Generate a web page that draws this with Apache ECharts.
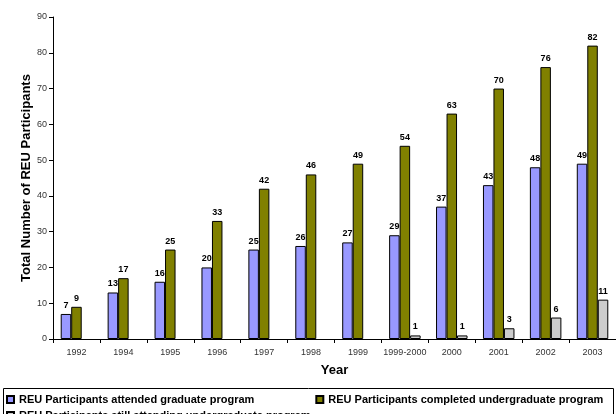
<!DOCTYPE html>
<html>
<head>
<meta charset="utf-8">
<script src="https://cdn.jsdelivr.net/npm/echarts@6/dist/echarts.min.js"></script>
<style>
  html, body { margin: 0; padding: 0; background: #fff; }
  #chart { width: 616px; height: 414px; }
</style>
</head>
<body>
<div id="chart"></div>
<script>
const years = ['1992', '1994', '1995', '1996', '1997', '1998', '1999', '1999-2000', '2000', '2001', '2002', '2003']
const graduate = [7, 13, 16, 20, 25, 26, 27, 29, 37, 43, 48, 49]
const completed = [9, 17, 25, 33, 42, 46, 49, 54, 63, 70, 76, 82]
const stillAttending = [null, null, null, null, null, null, null, 1, 1, 3, 6, 11]

const names = [
  'REU Participants attended graduate program',
  'REU Participants completed undergraduate program',
  'REU Participants still attending undergraduate program'
]
const colors = ['#9999ff', '#808000', '#cccccc']
const font = 'Liberation Sans'

const chart = echarts.init(document.getElementById('chart'))

function barSeries(name, data, color) {
  return {
    name,
    type: 'bar',
    data,
    barWidth: 10.5,
    barGap: '0%',
    itemStyle: {
      color,
      borderColor: '#000',
      borderWidth: 1
    },
    label: {
      show: true,
      position: 'top',
      distance: 4,
      color: '#000',
      fontWeight: 'bold',
      fontSize: 9,
      fontFamily: font
    }
  }
}

const option = {
  animation: false,
  grid: { left: 53, right: 0, top: 17, bottom: 75, containLabel: false },
  xAxis: {
    type: 'category',
    data: years,
    name: 'Year',
    nameLocation: 'middle',
    nameGap: 25,
    nameTextStyle: { fontWeight: 'bold', fontSize: 13, color: '#000', fontFamily: font },
    axisLine: { lineStyle: { color: '#000', width: 1 } },
    axisTick: { show: true, length: 4, lineStyle: { color: '#000' } },
    axisLabel: { interval: 0, color: '#333', fontSize: 9, margin: 9, fontFamily: font }
  },
  yAxis: {
    type: 'value',
    min: 0,
    max: 90,
    interval: 10,
    name: 'Total Number of REU Participants',
    nameLocation: 'middle',
    nameGap: 20,
    nameMoveOverlap: false,
    nameTextStyle: { fontWeight: 'bold', fontSize: 13, color: '#000', fontFamily: font },
    axisLine: { show: true, lineStyle: { color: '#000', width: 1 } },
    axisTick: { show: true, length: 4, lineStyle: { color: '#000' } },
    axisLabel: { color: '#333', fontSize: 9, margin: 6, fontFamily: font },
    splitLine: { show: false }
  },
  legend: [
    {
      data: [names[0], names[1]],
      left: 1,
      top: 389,
      itemWidth: 7,
      itemHeight: 7,
      icon: 'rect',
      itemGap: 61,
      textStyle: { fontWeight: 'bold', fontSize: 11, color: '#000', fontFamily: font }
    },
    {
      data: [names[2]],
      left: 1,
      top: 405,
      itemWidth: 7,
      itemHeight: 7,
      icon: 'rect',
      textStyle: { fontWeight: 'bold', fontSize: 11, color: '#000', fontFamily: font }
    }
  ],
  graphic: [
    {
      type: 'rect',
      shape: { x: 3.5, y: 388.5, width: 610, height: 40 },
      style: { fill: 'none', stroke: '#000', lineWidth: 1 },
      silent: true
    }
  ],
  series: [
    barSeries(names[0], graduate, colors[0]),
    barSeries(names[1], completed, colors[1]),
    barSeries(names[2], stillAttending, colors[2])
  ]
}

chart.setOption(option)
</script>
</body>
</html>
